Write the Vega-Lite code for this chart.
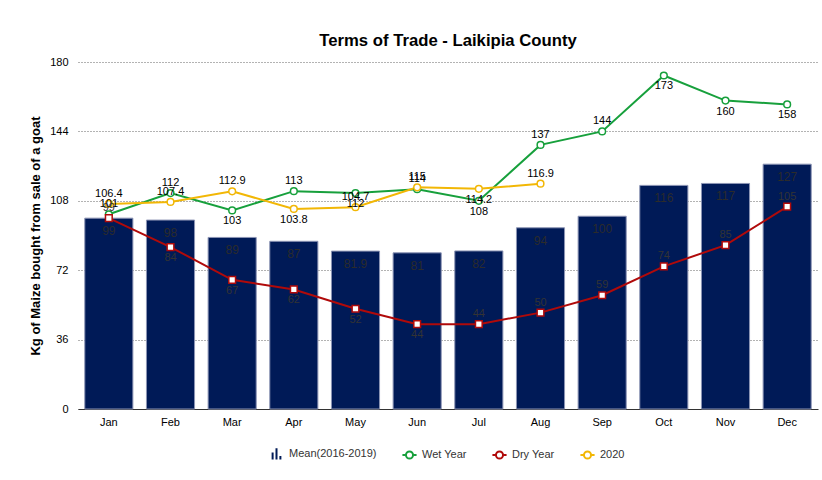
{
  "$schema": "https://vega.github.io/schema/vega-lite/v6.json",
  "width": 740,
  "height": 347,
  "autosize": {"type": "none"},
  "padding": {"left": 78, "top": 62, "right": 4, "bottom": 71},
  "background": "white",
  "title": {"text": "Terms of Trade - Laikipia County", "fontSize": 16.7, "fontWeight": "bold", "font": "Liberation Sans", "color": "#000", "anchor": "middle", "offset": 6},
  "config": {
    "font": "Liberation Sans",
    "view": {"stroke": null},
    "axis": {"labelFont": "Liberation Sans", "titleFont": "Liberation Sans"}
  },
  "datasets": {
    "mean": [
      {"month": "Jan", "value": 99}, {"month": "Feb", "value": 98}, {"month": "Mar", "value": 89},
      {"month": "Apr", "value": 87}, {"month": "May", "value": 81.9}, {"month": "Jun", "value": 81},
      {"month": "Jul", "value": 82}, {"month": "Aug", "value": 94}, {"month": "Sep", "value": 100},
      {"month": "Oct", "value": 116}, {"month": "Nov", "value": 117}, {"month": "Dec", "value": 127}
    ],
    "lines": [
      {"series": "Wet Year", "month": "Jan", "value": 101},
      {"series": "Wet Year", "month": "Feb", "value": 112},
      {"series": "Wet Year", "month": "Mar", "value": 103},
      {"series": "Wet Year", "month": "Apr", "value": 113},
      {"series": "Wet Year", "month": "May", "value": 112},
      {"series": "Wet Year", "month": "Jun", "value": 114},
      {"series": "Wet Year", "month": "Jul", "value": 108},
      {"series": "Wet Year", "month": "Aug", "value": 137},
      {"series": "Wet Year", "month": "Sep", "value": 144},
      {"series": "Wet Year", "month": "Oct", "value": 173},
      {"series": "Wet Year", "month": "Nov", "value": 160},
      {"series": "Wet Year", "month": "Dec", "value": 158},
      {"series": "Dry Year", "month": "Jan", "value": 99},
      {"series": "Dry Year", "month": "Feb", "value": 84},
      {"series": "Dry Year", "month": "Mar", "value": 67},
      {"series": "Dry Year", "month": "Apr", "value": 62},
      {"series": "Dry Year", "month": "May", "value": 52},
      {"series": "Dry Year", "month": "Jun", "value": 44},
      {"series": "Dry Year", "month": "Jul", "value": 44},
      {"series": "Dry Year", "month": "Aug", "value": 50},
      {"series": "Dry Year", "month": "Sep", "value": 59},
      {"series": "Dry Year", "month": "Oct", "value": 74},
      {"series": "Dry Year", "month": "Nov", "value": 85},
      {"series": "Dry Year", "month": "Dec", "value": 105},
      {"series": "2020", "month": "Jan", "value": 106.4},
      {"series": "2020", "month": "Feb", "value": 107.4},
      {"series": "2020", "month": "Mar", "value": 112.9},
      {"series": "2020", "month": "Apr", "value": 103.8},
      {"series": "2020", "month": "May", "value": 104.7},
      {"series": "2020", "month": "Jun", "value": 115},
      {"series": "2020", "month": "Jul", "value": 114.2},
      {"series": "2020", "month": "Aug", "value": 116.9}
    ]
  },
  "encoding": {
    "x": {"field": "month", "type": "nominal", "sort": ["Jan","Feb","Mar","Apr","May","Jun","Jul","Aug","Sep","Oct","Nov","Dec"],
      "scale": {"paddingInner": 0.22, "paddingOuter": 0.11},
      "axis": {"title": null, "labelAngle": 0, "labelFontSize": 11, "labelColor": "#000", "ticks": false, "domainColor": "#333", "labelPadding": 7}},
    "y": {"field": "value", "type": "quantitative",
      "scale": {"domain": [0, 180], "nice": false},
      "axis": {"title": "Kg of Maize bought from sale of a goat", "titleFontSize": 13, "titleFontWeight": "bold", "titleColor": "#000", "titlePadding": 7,
        "values": [0, 36, 72, 108, 144, 180], "labelFontSize": 11, "labelColor": "#000", "domain": false, "ticks": false, "labelPadding": 10,
        "grid": true, "gridDash": [1, 2], "gridColor": "#666", "gridWidth": 1}}
  },
  "layer": [
    {
      "data": {"name": "mean"},
      "mark": {"type": "bar", "color": "#001a57", "stroke": "#8c94b4", "strokeWidth": 1}
    },
    {
      "data": {"name": "mean"},
      "mark": {"type": "text", "baseline": "top", "dy": 8, "fontSize": 12, "color": "#2b2b2b"},
      "encoding": {"text": {"field": "value", "type": "quantitative"}}
    },
    {
      "data": {"name": "lines"},
      "mark": {"type": "line", "strokeWidth": 2},
      "encoding": {
        "detail": {"field": "series"},
        "stroke": {"field": "series", "type": "nominal", "legend": null,
          "scale": {"domain": ["Wet Year", "Dry Year", "2020"], "range": ["#17a03c", "#b00a0a", "#f2b705"]}}
      }
    },
    {
      "data": {"name": "lines"},
      "transform": [{"filter": "datum.series != 'Dry Year'"}],
      "mark": {"type": "point", "shape": "circle", "filled": true, "fill": "white", "size": 45, "strokeWidth": 1.5, "opacity": 1},
      "encoding": {"stroke": {"field": "series", "type": "nominal", "legend": null}}
    },
    {
      "data": {"name": "lines"},
      "transform": [{"filter": "datum.series == 'Dry Year'"}],
      "mark": {"type": "point", "shape": "square", "filled": true, "fill": "white", "size": 45, "strokeWidth": 1.5, "opacity": 1},
      "encoding": {"stroke": {"field": "series", "type": "nominal", "legend": null}}
    },
    {
      "data": {"name": "lines"},
      "transform": [{"filter": "(datum.series == 'Wet Year' && indexof(['Jan','Feb','Apr','Jun','Aug','Sep'], datum.month) >= 0) || (datum.series == '2020' && indexof(['Jan','Feb','Mar','May','Jun','Aug'], datum.month) >= 0)"}],
      "mark": {"type": "text", "baseline": "bottom", "dy": -5, "fontSize": 11, "color": "#000"},
      "encoding": {"text": {"field": "value", "type": "quantitative"}}
    },
    {
      "data": {"name": "lines"},
      "transform": [{"filter": "(datum.series == 'Wet Year' && indexof(['Mar','May','Jul','Oct','Nov','Dec'], datum.month) >= 0) || (datum.series == '2020' && indexof(['Apr','Jul'], datum.month) >= 0)"}],
      "mark": {"type": "text", "baseline": "top", "dy": 5, "fontSize": 11, "color": "#000"},
      "encoding": {"text": {"field": "value", "type": "quantitative"}}
    },
    {
      "data": {"name": "lines"},
      "transform": [{"filter": "datum.series == 'Dry Year' && indexof(['Jan','Jul','Aug','Sep','Oct','Nov','Dec'], datum.month) >= 0"}],
      "mark": {"type": "text", "baseline": "bottom", "dy": -5, "fontSize": 11, "color": "#333"},
      "encoding": {"text": {"field": "value", "type": "quantitative"}}
    },
    {
      "data": {"name": "lines"},
      "transform": [{"filter": "datum.series == 'Dry Year' && indexof(['Feb','Mar','Apr','May','Jun'], datum.month) >= 0"}],
      "mark": {"type": "text", "baseline": "top", "dy": 5, "fontSize": 11, "color": "#333"},
      "encoding": {"text": {"field": "value", "type": "quantitative"}}
    },
    {
      "data": {"name": "lines"},
      "mark": {"type": "point", "filled": false, "opacity": 0},
      "encoding": {
        "color": {"field": "series", "type": "nominal",
          "scale": {"domain": ["Mean(2016-2019)", "Wet Year", "Dry Year", "2020"], "range": ["#001a57", "#17a03c", "#b00a0a", "#f2b705"]},
          "legend": {"title": null, "orient": "none", "legendX": 190, "legendY": 383, "direction": "horizontal", "symbolOpacity": 1, "symbolSize": 200, "symbolStrokeWidth": 2,
            "labelFontSize": 11, "labelColor": "#333", "columnPadding": 21, "symbolFillColor": "white"}},
        "shape": {"field": "series", "type": "nominal",
          "scale": {"domain": ["Mean(2016-2019)", "Wet Year", "Dry Year", "2020"],
            "range": ["M-0.55,0.8L-0.55,-0.2M0,0.8L0,-0.8M0.55,0.8L0.55,0.3",
              "M-1,0L-0.5,0M0.5,0L1,0M-0.5,0A0.5,0.5,0,1,1,0.5,0A0.5,0.5,0,1,1,-0.5,0",
              "M-1,0L-0.5,0M0.5,0L1,0M-0.5,0A0.5,0.5,0,1,1,0.5,0A0.5,0.5,0,1,1,-0.5,0",
              "M-1,0L-0.5,0M0.5,0L1,0M-0.5,0A0.5,0.5,0,1,1,0.5,0A0.5,0.5,0,1,1,-0.5,0"]}}
      }
    }
  ]
}
